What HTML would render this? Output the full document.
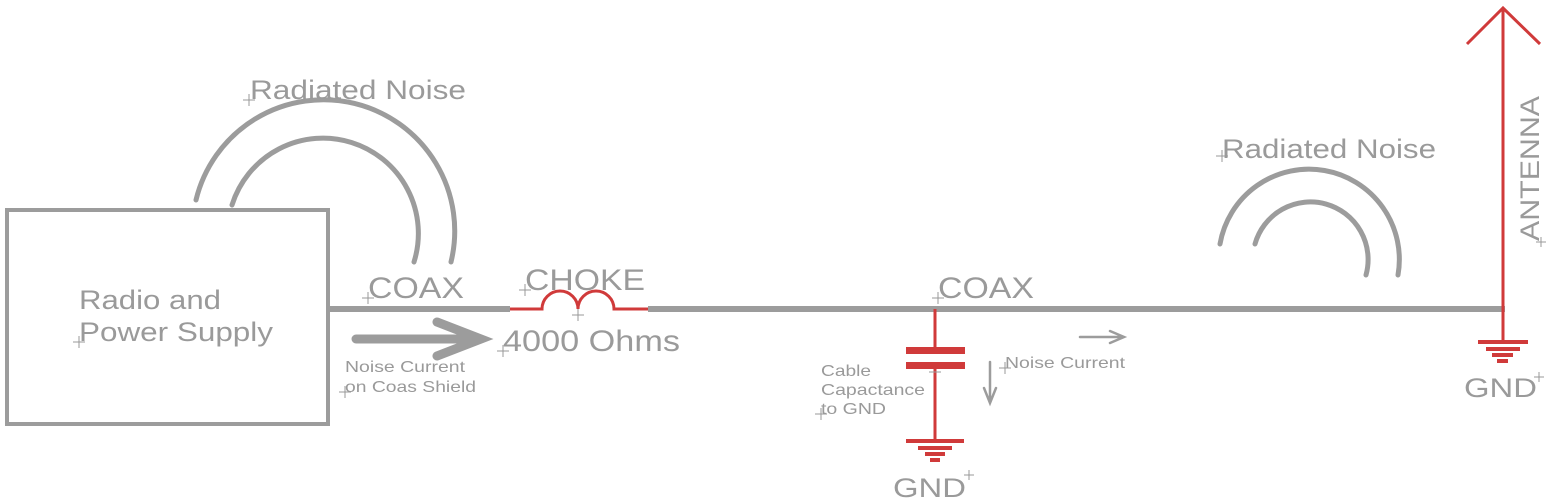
<!DOCTYPE html>
<html><head><style>body{margin:0;background:#fff}svg{display:block}text{font-family:"Liberation Sans",sans-serif;fill:#9a9a9a}</style></head><body>
<svg width="1547" height="501" viewBox="0 0 1547 501" xmlns="http://www.w3.org/2000/svg">
<g fill="none" stroke="#9c9c9c" stroke-linecap="round">
<rect x="7" y="210" width="321" height="214" stroke-width="4"/>
<path d="M196 200 A128 128 0 1 1 451 262" stroke-width="5"/>
<path d="M232 205 A92 92 0 1 1 414 262" stroke-width="5"/>
<path d="M1220 244 A90 90 0 0 1 1398 275" stroke-width="5"/>
<path d="M1255 244 A57 57 0 0 1 1366 275" stroke-width="5"/>
<path d="M328 309 H510 M648 309 H1505" stroke-width="6" stroke-linecap="butt"/>
<path d="M356 339 H478 M437 322 L481 339 L437 356" stroke-width="9"/>
<path d="M1080 337 H1123 M1110 331 L1124 337 L1110 343" stroke-width="2.5"/>
<path d="M990 362 V402 M984 388 L990 403 L996 388" stroke-width="2.5"/>
</g>
<g fill="none" stroke="#d03a3a" stroke-width="3">
<path d="M510 309 H542 A18 18 0 0 1 578 309 A18 18 0 0 1 614 309 H648"/>
<path d="M1503 309 V10 M1467 44 L1503 8 L1540 44"/>
<path d="M1503 309 V342"/>
<path d="M935 309 V350 M935 366 V441"/>
</g>
<g fill="#d03a3a">
<rect x="906" y="347" width="59" height="7"/><rect x="906" y="362" width="59" height="7"/>
<rect x="906" y="439" width="58" height="4"/><rect x="918" y="446" width="34" height="4"/><rect x="925" y="452" width="20" height="4"/><rect x="930" y="458" width="10" height="4"/>
<rect x="1478" y="340" width="50" height="4"/><rect x="1486" y="347" width="34" height="4"/><rect x="1492" y="353" width="21" height="4"/><rect x="1497" y="359" width="11" height="4"/>
</g>
<g stroke="#999" stroke-width="1">
<path d="M243 100 h12 M249 94 v12 M73 342 h12 M79 336 v12 M362 298 h12 M368 292 v12 M519 290 h12 M525 284 v12 M497 351 h12 M503 345 v12 M339 392 h12 M345 386 v12 M932 298 h12 M938 292 v12 M1216 156 h12 M1222 150 v12 M815 414 h12 M821 408 v12 M999 368 h12 M1005 362 v12 M929 372 h12 M572 315 h12 M578 309 v12 M964 475 h10 M969 470 v10 M1534 377 h10 M1539 372 v10 M1536 242 h10 M1541 237 v10"/>
</g>
<g>
<text x="250" y="99" font-size="27" textLength="216" lengthAdjust="spacingAndGlyphs">Radiated Noise</text>
<text x="1222" y="158" font-size="27" textLength="214" lengthAdjust="spacingAndGlyphs">Radiated Noise</text>
<text x="79" y="309" font-size="27" textLength="142" lengthAdjust="spacingAndGlyphs">Radio and</text>
<text x="79" y="341" font-size="27" textLength="194" lengthAdjust="spacingAndGlyphs">Power Supply</text>
<text x="368" y="298" font-size="30" textLength="96" lengthAdjust="spacingAndGlyphs">COAX</text>
<text x="525" y="290" font-size="30" textLength="120" lengthAdjust="spacingAndGlyphs">CHOKE</text>
<text x="503" y="351" font-size="30" textLength="177" lengthAdjust="spacingAndGlyphs">4000 Ohms</text>
<text x="938" y="298" font-size="30" textLength="96" lengthAdjust="spacingAndGlyphs">COAX</text>
<text x="345" y="372" font-size="16" textLength="120" lengthAdjust="spacingAndGlyphs">Noise Current</text>
<text x="345" y="392" font-size="16" textLength="131" lengthAdjust="spacingAndGlyphs">on Coas Shield</text>
<text x="821" y="376" font-size="16" textLength="50" lengthAdjust="spacingAndGlyphs">Cable</text>
<text x="821" y="395" font-size="16" textLength="104" lengthAdjust="spacingAndGlyphs">Capactance</text>
<text x="821" y="414" font-size="16" textLength="65" lengthAdjust="spacingAndGlyphs">to GND</text>
<text x="1005" y="368" font-size="16" textLength="120" lengthAdjust="spacingAndGlyphs">Noise Current</text>
<text x="893" y="497" font-size="27" textLength="73" lengthAdjust="spacingAndGlyphs">GND</text>
<text x="1464" y="397" font-size="27" textLength="73" lengthAdjust="spacingAndGlyphs">GND</text>
<text transform="translate(1539,241) rotate(-90)" font-size="27" textLength="145" lengthAdjust="spacingAndGlyphs">ANTENNA</text>
</g>
</svg>
</body></html>
